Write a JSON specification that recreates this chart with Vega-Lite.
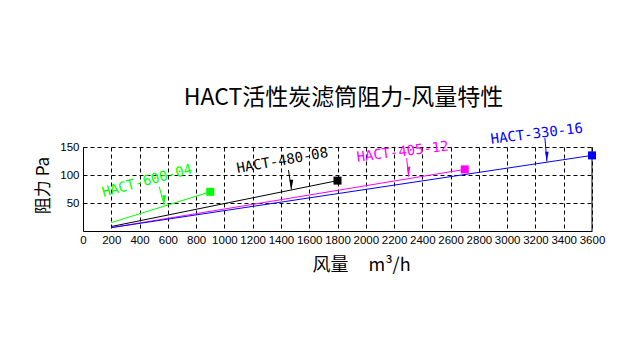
{
  "$schema": "https://vega.github.io/schema/vega-lite/v6.json",
  "width": 509,
  "height": 84,
  "autosize": {"type": "none"},
  "padding": {"left": 83, "top": 147, "right": 52, "bottom": 126},
  "background": "white",
  "title": {"text": "HACT活性炭滤筒阻力-风量特性", "fontSize": 23, "font": "Noto Sans CJK SC", "fontWeight": "normal", "color": "black", "offset": 12, "anchor": "middle", "dx": 6},
  "config": {"view": {"stroke": null}},
  "datasets": {
    "lines": [
      {"series": "HACT-600-04", "x": 200, "y": 15},
      {"series": "HACT-600-04", "x": 900, "y": 70},
      {"series": "HACT-480-08", "x": 200, "y": 8},
      {"series": "HACT-480-08", "x": 1800, "y": 90},
      {"series": "HACT-405-12", "x": 200, "y": 6},
      {"series": "HACT-405-12", "x": 2700, "y": 110},
      {"series": "HACT-330-16", "x": 200, "y": 6},
      {"series": "HACT-330-16", "x": 3600, "y": 135}
    ],
    "ends": [
      {"series": "HACT-600-04", "x": 900, "y": 70},
      {"series": "HACT-480-08", "x": 1800, "y": 90},
      {"series": "HACT-405-12", "x": 2700, "y": 110},
      {"series": "HACT-330-16", "x": 3600, "y": 135}
    ],
    "arrows": [
      {"series": "HACT-600-04", "x": 539, "y": 79, "x2": 574, "y2": 46},
      {"series": "HACT-480-08", "x": 1453, "y": 109, "x2": 1474, "y2": 74},
      {"series": "HACT-405-12", "x": 2289, "y": 130, "x2": 2303, "y2": 97},
      {"series": "HACT-330-16", "x": 3267, "y": 166, "x2": 3281, "y2": 124}
    ],
    "heads": [
      {"series": "HACT-600-04", "x": 574, "y": 46},
      {"series": "HACT-480-08", "x": 1474, "y": 74},
      {"series": "HACT-405-12", "x": 2303, "y": 97},
      {"series": "HACT-330-16", "x": 3281, "y": 124}
    ],
    "labels": [
      {"series": "HACT-600-04", "x": 454, "y": 89},
      {"series": "HACT-480-08", "x": 1410, "y": 125},
      {"series": "HACT-405-12", "x": 2261, "y": 141},
      {"series": "HACT-330-16", "x": 3210, "y": 173}
    ],
    "frame": [
      {"series": "frame", "x": 3600, "y": 0, "y2": 150}
    ]
  },
  "encoding": {
    "x": {"field": "x", "type": "quantitative", "scale": {"domain": [0, 3600], "nice": false, "zero": true},
      "axis": {"values": [0,200,400,600,800,1000,1200,1400,1600,1800,2000,2200,2400,2600,2800,3000,3200,3400,3600],
        "title": "风量\u00a0\u00a0\u00a0\u00a0\u00a0m³/h", "titleFont": "Noto Sans CJK SC", "titleFontSize": 18, "titleFontWeight": "normal", "titleColor": "black",
        "titleX": 278, "titleY": 34, "titleBaseline": "middle", "titleAlign": "center",
        "labelFont": "Liberation Sans", "labelFontSize": 11.5, "labelColor": "black", "labelPadding": 3, "labelOverlap": false, "labelFlush": false, "format": "d",
        "ticks": false, "domainColor": "black", "domainWidth": 1,
        "grid": true, "gridColor": "black", "gridDash": [4, 3], "gridWidth": 1, "gridOpacity": 1}},
    "y": {"field": "y", "type": "quantitative", "scale": {"domain": [0, 150], "nice": false},
      "axis": {"values": [50, 100, 150],
        "title": "阻力 Pa", "titleFont": "Noto Sans CJK SC", "titleFontSize": 17, "titleFontWeight": "normal", "titleColor": "black",
        "titleX": -40, "titleY": 38, "titleAngle": -90, "titleBaseline": "middle", "titleAlign": "center",
        "labelFont": "Liberation Sans", "labelFontSize": 11.5, "labelColor": "black", "labelPadding": 4, "format": "d",
        "ticks": false, "domainColor": "black", "domainWidth": 1,
        "grid": true, "gridColor": "black", "gridDash": [4, 3], "gridWidth": 1, "gridOpacity": 1}},
    "color": {"field": "series", "type": "nominal", "legend": null,
      "scale": {"domain": ["HACT-600-04", "HACT-480-08", "HACT-405-12", "HACT-330-16", "frame"], "range": ["#00ff00", "#000000", "#ff00ff", "#0000ff", "#000000"]}}
  },
  "layer": [
    {
      "data": {"name": "frame"},
      "mark": {"type": "rule", "strokeWidth": 1},
      "encoding": {"y2": {"field": "y2"}}
    },
    {
      "data": {"name": "lines"},
      "mark": {"type": "line", "strokeWidth": 1},
      "encoding": {"detail": {"field": "series"}}
    },
    {
      "data": {"name": "ends"},
      "mark": {"type": "point", "shape": "square", "filled": true, "opacity": 1, "size": 64},
      "encoding": {}
    },
    {
      "data": {"name": "arrows"},
      "mark": {"type": "rule", "strokeWidth": 1, "clip": false},
      "encoding": {"x2": {"field": "x2"}, "y2": {"field": "y2"}}
    },
    {
      "data": {"name": "heads"},
      "mark": {"type": "point", "shape": "M-0.6,-3.3L0.6,-3.3L0,0Z", "filled": true, "opacity": 1, "size": 36, "strokeWidth": 0},
      "encoding": {}
    },
    {
      "data": {"name": "labels"},
      "transform": [{"filter": "datum.series == 'HACT-600-04'"}],
      "mark": {"type": "text", "font": "DejaVu Sans Mono", "fontSize": 14, "angle": -15, "align": "center", "baseline": "middle"},
      "encoding": {"text": {"field": "series"}}
    },
    {
      "data": {"name": "labels"},
      "transform": [{"filter": "datum.series == 'HACT-480-08'"}],
      "mark": {"type": "text", "font": "DejaVu Sans Mono", "fontSize": 14, "angle": -10, "align": "center", "baseline": "middle"},
      "encoding": {"text": {"field": "series"}}
    },
    {
      "data": {"name": "labels"},
      "transform": [{"filter": "datum.series == 'HACT-405-12'"}],
      "mark": {"type": "text", "font": "DejaVu Sans Mono", "fontSize": 14, "angle": -7, "align": "center", "baseline": "middle"},
      "encoding": {"text": {"field": "series"}}
    },
    {
      "data": {"name": "labels"},
      "transform": [{"filter": "datum.series == 'HACT-330-16'"}],
      "mark": {"type": "text", "font": "DejaVu Sans Mono", "fontSize": 14, "angle": -7, "align": "center", "baseline": "middle"},
      "encoding": {"text": {"field": "series"}}
    }
  ]
}
